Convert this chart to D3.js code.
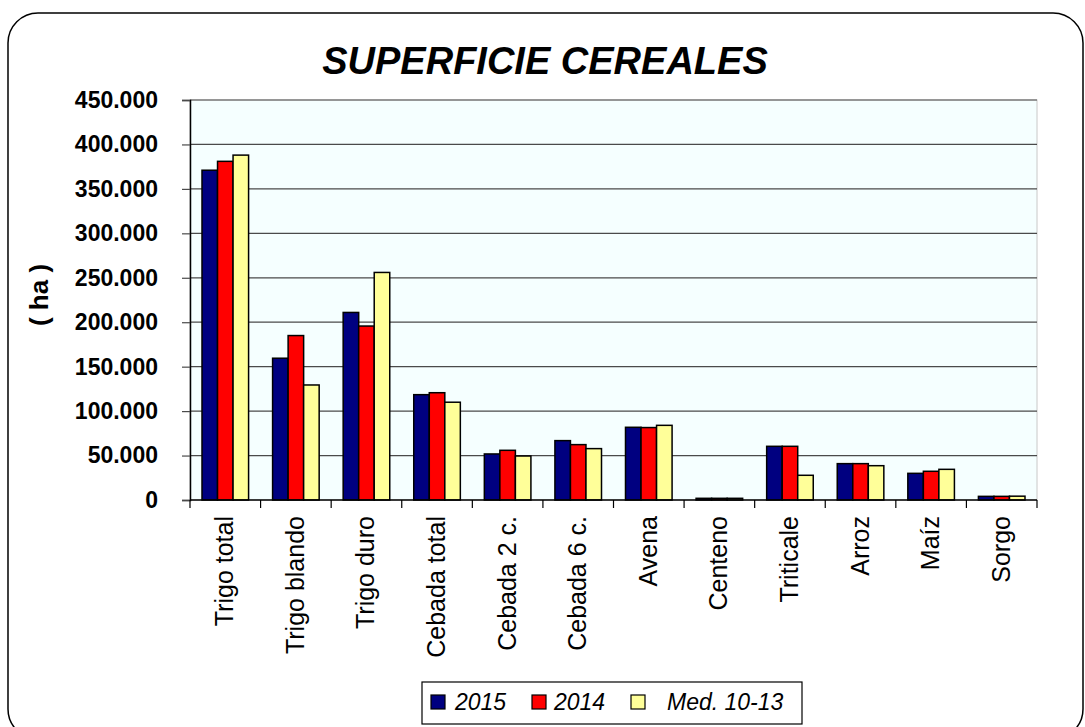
<!DOCTYPE html>
<html>
<head>
<meta charset="utf-8">
<script src="https://cdnjs.cloudflare.com/ajax/libs/d3/7.8.5/d3.min.js"></script>
<style>
  body { margin: 0; background: #fff; }
  svg { display: block; font-family: "Liberation Sans", Arial, sans-serif; }
</style>
</head>
<body>
<div id="chart"></div>
<script>
var w = 1085;
var h = 727;

// Data (ha)
var categories = ["Trigo total", "Trigo blando", "Trigo duro", "Cebada total", "Cebada 2 c.",
  "Cebada 6 c.", "Avena", "Centeno", "Triticale", "Arroz", "Maíz", "Sorgo"];
var series = ["2015", "2014", "Med. 10-13"];
var v2015 = [371000, 159500, 211000, 118500, 51800, 66800, 81800, 1900, 60400, 40900, 30000, 4100];
var v2014 = [381000, 185000, 195700, 120700, 55900, 62300, 81500, 1900, 60400, 40900, 32300, 4100];
var vMed = [388000, 129400, 256000, 110000, 49500, 57800, 84000, 1900, 27800, 38600, 34500, 4300];
var yTicks = [0, 50000, 100000, 150000, 200000, 250000, 300000, 350000, 400000, 450000];

var colors = { "2015": "#000080", "2014": "#ff0000", "Med. 10-13": "#ffff99" };

var margin = { left: 190, top: 100, right: 1037, bottom: 500 };

var svg = d3.select("#chart").append("svg")
  .attr("width", w)
  .attr("height", h);

// outer rounded frame
svg.append("rect")
  .attr("x", 8).attr("y", 13)
  .attr("width", 1075).attr("height", 726)
  .attr("rx", 30).attr("ry", 30)
  .attr("fill", "#fff")
  .attr("stroke", "#000")
  .attr("stroke-width", 1.5);

// title
svg.append("text")
  .attr("x", 545).attr("y", 74)
  .attr("text-anchor", "middle")
  .attr("font-size", 38)
  .attr("font-weight", "bold")
  .attr("font-style", "italic")
  .text("SUPERFICIE CEREALES");

var x = d3.scaleBand()
  .domain(categories)
  .range([margin.left, margin.right])
  .paddingInner(0.34)
  .paddingOuter(0.17);

var x1 = d3.scaleBand()
  .domain(series)
  .range([0, x.bandwidth()]);

var y = d3.scaleLinear()
  .domain([0, 450000])
  .range([margin.bottom, margin.top]);

// plot background
svg.append("rect")
  .attr("x", margin.left).attr("y", margin.top)
  .attr("width", margin.right - margin.left)
  .attr("height", margin.bottom - margin.top)
  .attr("fill", "#f5ffff")
  .attr("stroke", "#c8c8c8")
  .attr("stroke-width", 1);

// gridlines
svg.append("g").selectAll("line")
  .data(yTicks.slice(1))
  .enter().append("line")
  .attr("x1", margin.left).attr("x2", margin.right)
  .attr("y1", d => y(d)).attr("y2", d => y(d))
  .attr("stroke", "#4a4a4a")
  .attr("stroke-width", 1.2);

// y axis
var fmt = function (d) {
  return d === 0 ? "0" : d3.format(",")(d).replace(/,/g, ".");
};
var yAxis = svg.append("g")
  .attr("transform", "translate(" + margin.left + ",0)")
  .call(d3.axisLeft(y).tickValues(yTicks).tickFormat(fmt).tickSize(8).tickPadding(24));
yAxis.select(".domain").attr("stroke", "#000").attr("stroke-width", 1.5);
yAxis.selectAll(".tick line").attr("stroke", "#4a4a4a").attr("stroke-width", 1.2);
yAxis.selectAll("text")
  .attr("font-size", 23)
  .attr("font-weight", "bold")
  .attr("font-family", "Liberation Sans, Arial, sans-serif")
  .attr("fill", "#000");

// y label
svg.append("text")
  .attr("transform", "translate(48,295) rotate(-90)")
  .attr("text-anchor", "middle")
  .attr("font-size", 26)
  .attr("font-weight", "bold")
  .text("( ha )");

// bars
var groups = svg.append("g").selectAll("g")
  .data(categories)
  .enter().append("g")
  .attr("transform", d => "translate(" + x(d) + ",0)");

groups.selectAll("rect")
  .data((d, i) => [
    { s: "2015", v: v2015[i] },
    { s: "2014", v: v2014[i] },
    { s: "Med. 10-13", v: vMed[i] }
  ])
  .enter().append("rect")
  .attr("x", d => x1(d.s))
  .attr("y", d => y(d.v))
  .attr("width", x1.bandwidth())
  .attr("height", d => y(0) - y(d.v))
  .attr("fill", d => colors[d.s])
  .attr("stroke", "#000")
  .attr("stroke-width", 1.5);

// x axis baseline and category boundary ticks
var bounds = d3.range(categories.length + 1).map(i => margin.left + i * (margin.right - margin.left) / categories.length);
svg.append("line")
  .attr("x1", margin.left).attr("x2", margin.right)
  .attr("y1", margin.bottom).attr("y2", margin.bottom)
  .attr("stroke", "#000").attr("stroke-width", 1.5);
svg.append("g").selectAll("line")
  .data(bounds)
  .enter().append("line")
  .attr("x1", d => d).attr("x2", d => d)
  .attr("y1", margin.bottom).attr("y2", margin.bottom + 8)
  .attr("stroke", "#000").attr("stroke-width", 1.2);

// category labels
svg.append("g").selectAll("text")
  .data(categories)
  .enter().append("text")
  .attr("transform", d => "translate(" + (x(d) + x.bandwidth() / 2 + 8) + ",516) rotate(-90)")
  .attr("text-anchor", "end")
  .attr("font-size", 25)
  .text(d => d);

// legend
var legend = svg.append("g");
legend.append("rect")
  .attr("x", 422).attr("y", 682)
  .attr("width", 380).attr("height", 42)
  .attr("fill", "#fff")
  .attr("stroke", "#000")
  .attr("stroke-width", 1.2);

var legendPos = [{ sx: 431, tx: 455 }, { sx: 532, tx: 554 }, { sx: 631, tx: 667 }];
var items = legend.selectAll(".legend-item")
  .data(series)
  .enter().append("g")
  .attr("class", "legend-item");
items.append("rect")
  .attr("x", (d, i) => legendPos[i].sx)
  .attr("y", 695)
  .attr("width", 14).attr("height", 14)
  .attr("fill", d => colors[d])
  .attr("stroke", "#000")
  .attr("stroke-width", 1.2);
items.append("text")
  .attr("x", (d, i) => legendPos[i].tx)
  .attr("y", 710)
  .attr("font-size", 23)
  .attr("font-style", "italic")
  .text(d => d);
</script>
</body>
</html>
